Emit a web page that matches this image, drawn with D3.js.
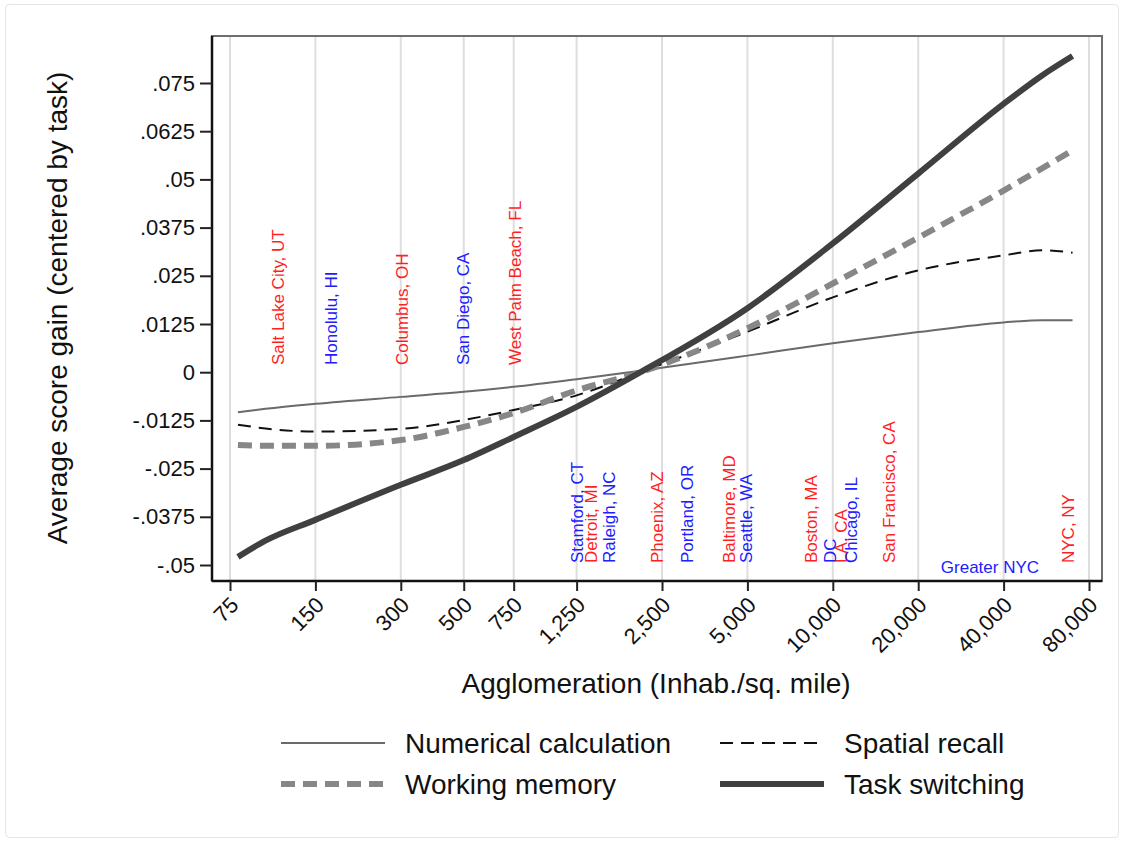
<!DOCTYPE html>
<html>
<head>
<meta charset="utf-8">
<style>
    body { margin: 0; background: #fff; }
    svg text { font-family: "Liberation Sans", Arial, Helvetica, sans-serif; }
</style>
</head>
<body>
<svg width="1124" height="843"></svg>
<script src="https://d3js.org/d3.v7.min.js"></script>
<script>

    // density points the smoothed curves were read at (inhab./sq. mile)
    var densities = [80, 100, 150, 300, 500, 750, 1250, 2100, 5000, 10000, 20000, 40000, 55000, 70000];

    var numerical = [-0.0104, -0.0095, -0.0082, -0.0064, -0.0051, -0.0038, -0.0018, 0.0004, 0.0043, 0.0075, 0.0104, 0.0129, 0.0135, 0.0135];
    var spatial   = [-0.0136, -0.0146, -0.0154, -0.0147, -0.0124, -0.0098, -0.0060, 0.0000, 0.0105, 0.0194, 0.0264, 0.0303, 0.0316, 0.0310];
    var working   = [-0.0189, -0.0191, -0.0191, -0.0176, -0.0142, -0.0106, -0.0047, 0.0000, 0.0114, 0.0230, 0.0349, 0.0471, 0.0530, 0.0575];
    var switching = [-0.0479, -0.0437, -0.0383, -0.0292, -0.0228, -0.0168, -0.0090, 0.0000, 0.0166, 0.0334, 0.0515, 0.0696, 0.0771, 0.0820];

    var xTicks = [75, 150, 300, 500, 750, 1250, 2500, 5000, 10000, 20000, 40000, 80000];
    var xTickLabels = ["75", "150", "300", "500", "750", "1,250", "2,500", "5,000", "10,000", "20,000", "40,000", "80,000"];
    var yTicks = [0.075, 0.0625, 0.05, 0.0375, 0.025, 0.0125, 0, -0.0125, -0.025, -0.0375, -0.05];
    var yTickLabels = [".075", ".0625", ".05", ".0375", ".025", ".0125", "0", "-.0125", "-.025", "-.0375", "-.05"];

    var cityNames   = ["Salt Lake City, UT", "Honolulu, HI", "Columbus, OH", "San Diego, CA", "West Palm Beach, FL",
                       "Stamford, CT", "Detroit, MI", "Raleigh, NC", "Phoenix, AZ", "Portland, OR", "Baltimore, MD",
                       "Seattle, WA", "Boston, MA", "DC", "LA, CA", "Chicago, IL", "San Francisco, CA", "NYC, NY"];
    var cityDensity = [111, 171, 302, 496, 757, 1250, 1411, 1633, 2410, 3073, 4320, 4957, 8400, 9800, 10710, 11620, 15800, 67400];
    var cityColor   = ["r", "b", "r", "b", "r", "b", "r", "b", "r", "b", "r", "b", "r", "b", "r", "b", "r", "r"];
    var cityRow     = ["top", "top", "top", "top", "top", "bottom", "bottom", "bottom", "bottom", "bottom", "bottom",
                       "bottom", "bottom", "bottom", "bottom", "bottom", "bottom", "bottom"];

    var seriesNames = ["Numerical calculation", "Spatial recall", "Working memory", "Task switching"];

    var svg = d3.select("svg");

    var x = d3.scaleLog()
        .domain([75, 80000])
        .range([230, 1089]);

    var y = d3.scaleLinear()
        .domain([-0.05, 0.075])
        .range([565, 83]);

    // plot region edges ("top" would clash with window.top)
    var pLeft = 212, pRight = 1102, pTop = 36, pBottom = 581;

    var red = "#ff1f1f", blue = "#2020ff";

    // faint outer frame
    svg.append("rect")
        .attr("x", 5.5).attr("y", 4.5)
        .attr("width", 1113).attr("height", 833)
        .attr("rx", 4)
        .attr("fill", "none")
        .attr("stroke", "#e4e4e4");

    // vertical grid lines at each x tick
    svg.append("g")
        .selectAll("line")
        .data(xTicks)
        .enter().append("line")
        .attr("x1", function(d) { return x(d); })
        .attr("x2", function(d) { return x(d); })
        .attr("y1", pTop)
        .attr("y2", pBottom)
        .attr("stroke", "#dedede")
        .attr("stroke-width", 2);

    // plot region outline (top / right)
    svg.append("rect")
        .attr("x", pLeft).attr("y", pTop)
        .attr("width", pRight - pLeft).attr("height", pBottom - pTop)
        .attr("fill", "none")
        .attr("stroke", "#6e6e6e")
        .attr("stroke-width", 2);

    // axes
    var yAxis = svg.append("g")
        .attr("transform", "translate(" + pLeft + ",0)")
        .call(d3.axisLeft(y)
              .tickValues(yTicks)
              .tickSize(12)
              .tickPadding(5)
              .tickFormat(function(d, i) { return yTickLabels[i]; }));
    yAxis.select(".domain")
        .attr("d", "M0," + pTop + "V" + pBottom)
        .attr("stroke", "#111")
        .attr("stroke-width", 2.5);
    yAxis.selectAll(".tick line").attr("stroke", "#222").attr("stroke-width", 2);
    yAxis.selectAll(".tick text")
        .attr("font-size", 22)
        .attr("fill", "#111")
        .attr("font-family", "Liberation Sans, Arial, sans-serif");

    var xAxis = svg.append("g")
        .attr("transform", "translate(0," + pBottom + ")")
        .call(d3.axisBottom(x)
              .tickValues(xTicks)
              .tickSize(10)
              .tickFormat(function(d, i) { return xTickLabels[i]; }));
    xAxis.select(".domain")
        .attr("d", "M" + pLeft + ",0H" + pRight)
        .attr("stroke", "#111")
        .attr("stroke-width", 2.5);
    xAxis.selectAll(".tick line").attr("stroke", "#222").attr("stroke-width", 2);
    xAxis.selectAll(".tick text")
        .attr("font-size", 22)
        .attr("fill", "#111")
        .attr("font-family", "Liberation Sans, Arial, sans-serif")
        .attr("text-anchor", "end")
        .attr("y", 0)
        .attr("dy", "0.35em")
        .attr("transform", "translate(4,20) rotate(-45)");

    // axis titles
    svg.append("text")
        .attr("transform", "translate(67,308) rotate(-90)")
        .attr("text-anchor", "middle")
        .attr("font-size", 28)
        .attr("fill", "#111")
        .text("Average score gain (centered by task)");

    svg.append("text")
        .attr("x", 656)
        .attr("y", 693)
        .attr("text-anchor", "middle")
        .attr("font-size", 28)
        .attr("fill", "#111")
        .text("Agglomeration (Inhab./sq. mile)");

    // city labels
    var cities = cityNames.map(function(n, i) {
        return { name: n, density: cityDensity[i], color: cityColor[i] == "r" ? red : blue, row: cityRow[i] };
    });

    svg.append("g")
        .selectAll("text")
        .data(cities)
        .enter().append("text")
        .attr("transform", function(d) {
            return "translate(" + x(d.density) + "," + (d.row == "top" ? 365 : 563) + ") rotate(-90)";
        })
        .attr("dy", "0.35em")
        .attr("font-size", 17)
        .attr("fill", function(d) { return d.color; })
        .text(function(d) { return d.name; });

    svg.append("text")
        .attr("x", x(35800))
        .attr("y", 573)
        .attr("text-anchor", "middle")
        .attr("font-size", 17)
        .attr("fill", blue)
        .text("Greater NYC");

    // curves
    var styles = [
        { color: "#6a6a6a", width: 2,   dash: null },
        { color: "#111",    width: 2,   dash: "13,8" },
        { color: "#878787", width: 6,   dash: "14,8" },
        { color: "#404040", width: 6,   dash: null }
    ];
    var values = [numerical, spatial, working, switching];

    var line = d3.line()
        .x(function(d) { return x(d[0]); })
        .y(function(d) { return y(d[1]); })
        .curve(d3.curveMonotoneX);

    svg.append("g")
        .selectAll("path")
        .data(values)
        .enter().append("path")
        .attr("d", function(v) { return line(densities.map(function(dd, i) { return [dd, v[i]]; })); })
        .attr("fill", "none")
        .attr("stroke", function(v, i) { return styles[i].color; })
        .attr("stroke-width", function(v, i) { return styles[i].width; })
        .attr("stroke-dasharray", function(v, i) { return styles[i].dash; });

    // legend: two columns, two rows
    var legendPos = [[281, 743], [720, 743], [281, 784], [720, 784]];

    var lg = svg.append("g")
        .selectAll("g")
        .data(seriesNames)
        .enter().append("g")
        .attr("transform", function(d, i) { return "translate(" + legendPos[i][0] + "," + legendPos[i][1] + ")"; });

    lg.append("line")
        .attr("x1", 0).attr("x2", 104)
        .attr("stroke", function(d, i) { return styles[i].color; })
        .attr("stroke-width", function(d, i) { return styles[i].width; })
        .attr("stroke-dasharray", function(d, i) { return styles[i].dash; });

    lg.append("text")
        .attr("x", 124)
        .attr("dy", "0.35em")
        .attr("font-size", 28)
        .attr("fill", "#111")
        .text(function(d) { return d; });

</script>
</body>
</html>
